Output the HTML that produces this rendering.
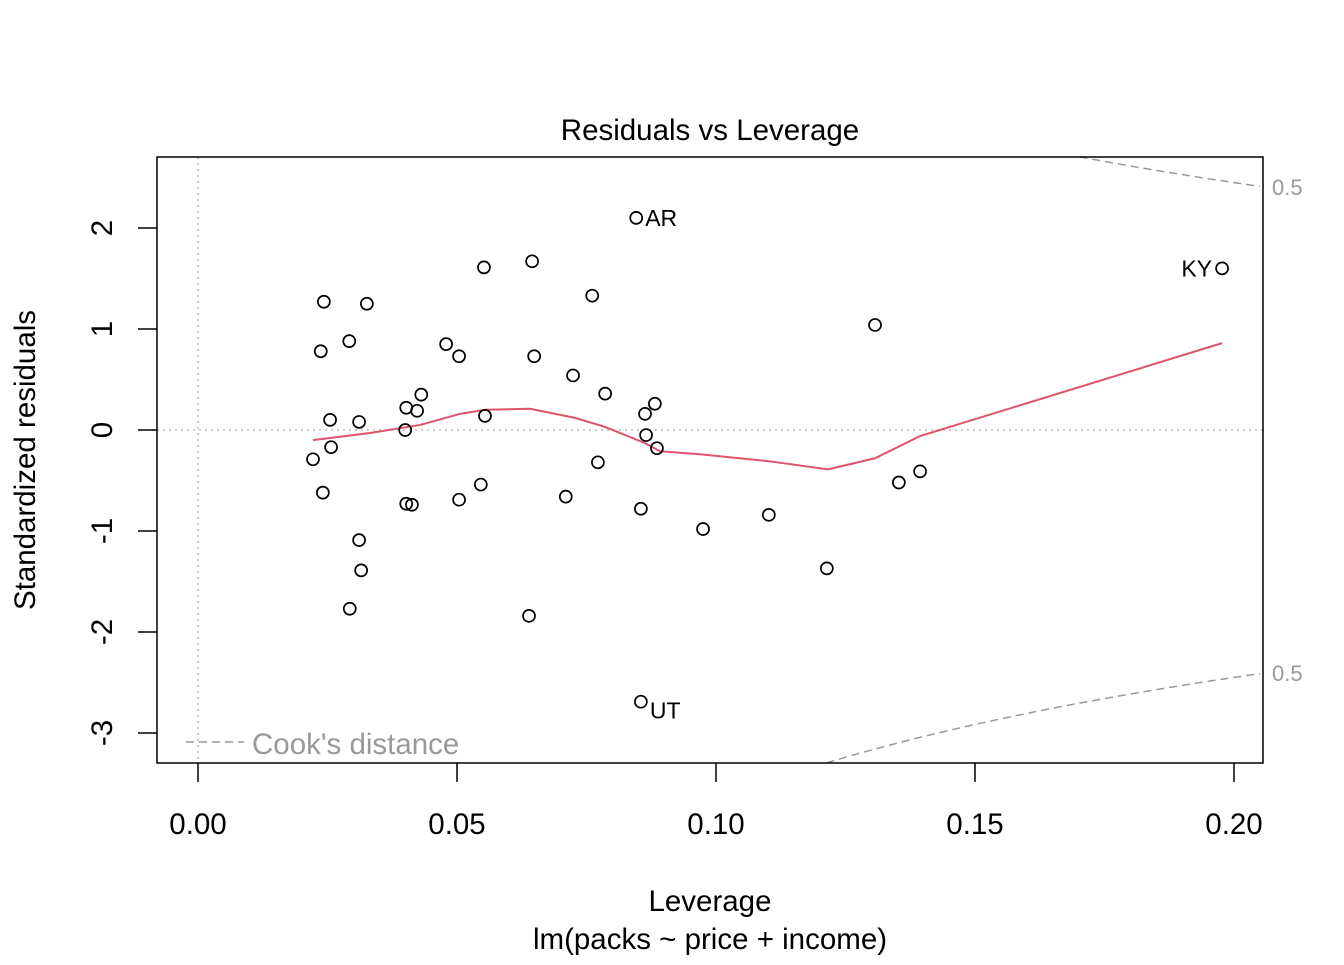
<!DOCTYPE html>
<html><head><meta charset="utf-8"><style>
body{margin:0;background:#fff}
text{font-family:"Liberation Sans",Arial,sans-serif}
</style></head><body>
<svg id="chart" width="1344" height="960" xmlns="http://www.w3.org/2000/svg">
<text x="710" y="140" font-size="29.5" text-anchor="middle">Residuals vs Leverage</text>
<text x="710" y="911" font-size="29.5" text-anchor="middle">Leverage</text>
<text x="710" y="949" font-size="29.5" text-anchor="middle">lm(packs ~ price + income)</text>
<text transform="translate(35,460) rotate(-90)" font-size="29.5" text-anchor="middle">Standardized residuals</text>
<g id="g"></g>
<rect x="157" y="157" width="1106" height="606" fill="none" stroke="#000" stroke-width="1.5"/>
</svg>
<script>
const xTicks=[0,0.05,0.1,0.15,0.2];
const xTickLabels=["0.00","0.05","0.10","0.15","0.20"];
const yTicks=[-3,-2,-1,0,1,2];
const leverage=[0.0846,0.1977,0.0855,0.0552,0.0645,0.0761,0.0243,0.0326,0.1307,0.0237,0.0292,0.0479,0.0504,0.0649,0.0724,0.0786,0.0431,0.0402,0.0423,0.0255,0.0311,0.0554,0.0882,0.0863,0.0400,0.0865,0.0886,0.0257,0.0222,0.0772,0.1394,0.1353,0.0546,0.0241,0.0710,0.0504,0.0402,0.0413,0.0855,0.1102,0.0975,0.0311,0.0315,0.1214,0.0293,0.0639];
const residuals=[2.10,1.60,-2.69,1.61,1.67,1.33,1.27,1.25,1.04,0.78,0.88,0.85,0.73,0.73,0.54,0.36,0.35,0.22,0.19,0.10,0.08,0.14,0.26,0.16,0.00,-0.05,-0.18,-0.17,-0.29,-0.32,-0.41,-0.52,-0.54,-0.62,-0.66,-0.69,-0.73,-0.74,-0.78,-0.84,-0.98,-1.09,-1.39,-1.37,-1.77,-1.84];
const labels=["AR","KY","UT"];
const smoothX=[0.0222,0.0332,0.0429,0.0506,0.0554,0.0641,0.0728,0.0786,0.0863,0.0892,0.0969,0.1104,0.1216,0.1307,0.1394,0.1977];
const smoothY=[-0.10,-0.03,0.05,0.16,0.20,0.21,0.12,0.03,-0.13,-0.21,-0.24,-0.31,-0.39,-0.28,-0.06,0.86];
const cookLevel=0.5, nParams=3;

const X=v=>198+v*5180, Y=v=>430-v*101;
const NS="http://www.w3.org/2000/svg";
const g=document.getElementById('g');
function mk(t,a,p){const e=document.createElementNS(NS,t);for(const k in a)e.setAttribute(k,a[k]);(p||g).appendChild(e);return e;}
const defs=mk('defs',{});const cp=mk('clipPath',{id:'c'},defs);mk('rect',{x:157,y:157,width:1106,height:606},cp);
let e=mk('line',{x1:157,x2:1263,y1:Y(0),y2:Y(0),stroke:'#bbb','stroke-dasharray':'2,4','stroke-width':1.5});


e=mk('line',{x1:X(0),x2:X(0),y1:157,y2:763,stroke:'#bbb','stroke-dasharray':'2,4','stroke-width':1.5});


xTicks.forEach((t,i)=>{
 e=mk('line',{x1:X(t),x2:X(t),y1:763,y2:782,stroke:'#000','stroke-width':1.5});
 
 
 e=mk('text',{x:X(t),y:834,'font-size':29.5,'text-anchor':'middle'});e.textContent=xTickLabels[i];
 
 
});
yTicks.forEach(t=>{
 e=mk('line',{x1:138,x2:157,y1:Y(t),y2:Y(t),stroke:'#000','stroke-width':1.5});
 
 
 e=mk('text',{transform:`translate(112,${Y(t)}) rotate(-90)`,'font-size':29.5,'text-anchor':'middle'});e.textContent=t;
 
 
});
[1,-1].forEach(s=>{
 let d='';for(let h=0.1;h<=0.2056;h+=0.001){const r=s*Math.sqrt(cookLevel*nParams*(1-h)/h);d+=(d?'L':'M')+X(h)+','+Y(r);}
 e=mk('path',{d,fill:'none',stroke:'#999','stroke-dasharray':'8,5','stroke-width':1.5,'clip-path':'url(#c)'});
 
 
 const hr=0.2055, r=s*Math.sqrt(cookLevel*nParams*(1-hr)/hr);
 e=mk('text',{x:1272,y:Y(r)+8,'font-size':22,fill:'#999'});e.textContent=String(cookLevel);
 
 
});
e=mk('polyline',{points:smoothX.map((x,i)=>X(x)+','+Y(smoothY[i])).join(' '),fill:'none',stroke:'#DF536B','stroke-width':2});


leverage.forEach((x,i)=>{
 e=mk('circle',{cx:X(x),cy:Y(residuals[i]),r:6,fill:'none',stroke:'#000','stroke-width':1.7});
 
 
});
labels.forEach((l,i)=>{
 const px=X(leverage[i]),py=Y(residuals[i]);let a;
 if(i===0)a={x:px+9,y:py+8,'text-anchor':'start'};
 else if(i===1)a={x:px-10,y:py+8,'text-anchor':'end'};
 else a={x:px+9,y:py+17,'text-anchor':'start'};
 a['font-size']=23;
 e=mk('text',a);e.textContent=l;
 
 
});
e=mk('line',{x1:186,x2:244,y1:742,y2:742,stroke:'#999','stroke-dasharray':'8,5','stroke-width':1.5});


e=mk('text',{x:252,y:754,'font-size':29.5,fill:'#999'});e.textContent="Cook's distance";


</script>
</body></html>
